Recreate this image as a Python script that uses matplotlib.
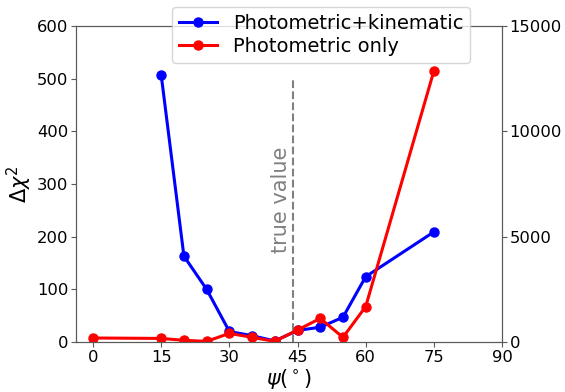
import matplotlib
matplotlib.use("Agg")
import matplotlib.pyplot as plt

# Inclination grid and Δχ² curves
psi_kin = [15, 20, 25, 30, 35, 40, 45, 50, 55, 60, 75]
chi_kin = [507, 163, 100, 20, 12, 2, 22, 28, 47, 124, 209]

psi_phot = [0, 15, 20, 25, 30, 35, 40, 45, 50, 55, 60, 75]
chi_phot = [190, 170, 80, 30, 410, 220, 30, 570, 1120, 220, 1680, 12860]

true_psi = 44
true_top = 500

x_ticks = [0, 15, 30, 45, 60, 75, 90]
left_ticks = [0, 100, 200, 300, 400, 500, 600]
right_ticks = [0, 5000, 10000, 15000]

fs = 11.8
spine_col = "0.35"

fig = plt.figure(figsize=(5.65, 3.92), dpi=100)
ax = fig.add_subplot(111)
fig.subplots_adjust(left=76/565, right=502/565, top=1-26/392, bottom=1-342/392)
ax2 = ax.twinx()

l1, = ax.plot(psi_kin, chi_kin, color="blue", lw=2.2, marker="o", ms=6.5,
              label="Photometric+kinematic")
l2, = ax2.plot(psi_phot, chi_phot, color="red", lw=2.2, marker="o", ms=6.5,
               label="Photometric only")

ax.plot([true_psi, true_psi], [0, true_top], ls="--", color="gray", lw=1.5)
ax.text(true_psi - 2.6, 270, "true value", rotation=90, color="gray",
        fontsize=15, ha="center", va="center")

ax.set_xlim(-3.75, 90)
ax.set_xticks(x_ticks)
ax.set_ylim(0, 600)
ax.set_yticks(left_ticks)
ax2.set_ylim(0, 15000)
ax2.set_yticks(right_ticks)

for a in (ax, ax2):
    a.tick_params(labelsize=fs, color=spine_col, pad=2)
    for s in a.spines.values():
        s.set_color(spine_col)

ax.set_xlabel(r"$\psi(^\circ)$", fontsize=15, labelpad=2)
ax.set_ylabel(r"$\Delta\chi^2$", fontsize=15, labelpad=2)

fig.legend(handles=[l1, l2], loc="upper center",
           bbox_to_anchor=(321/565, 1 - 7/392), fontsize=14,
           borderaxespad=0, handletextpad=0.8, labelspacing=0.22,
           borderpad=0.35)

fig.savefig("out.png", dpi=100)
